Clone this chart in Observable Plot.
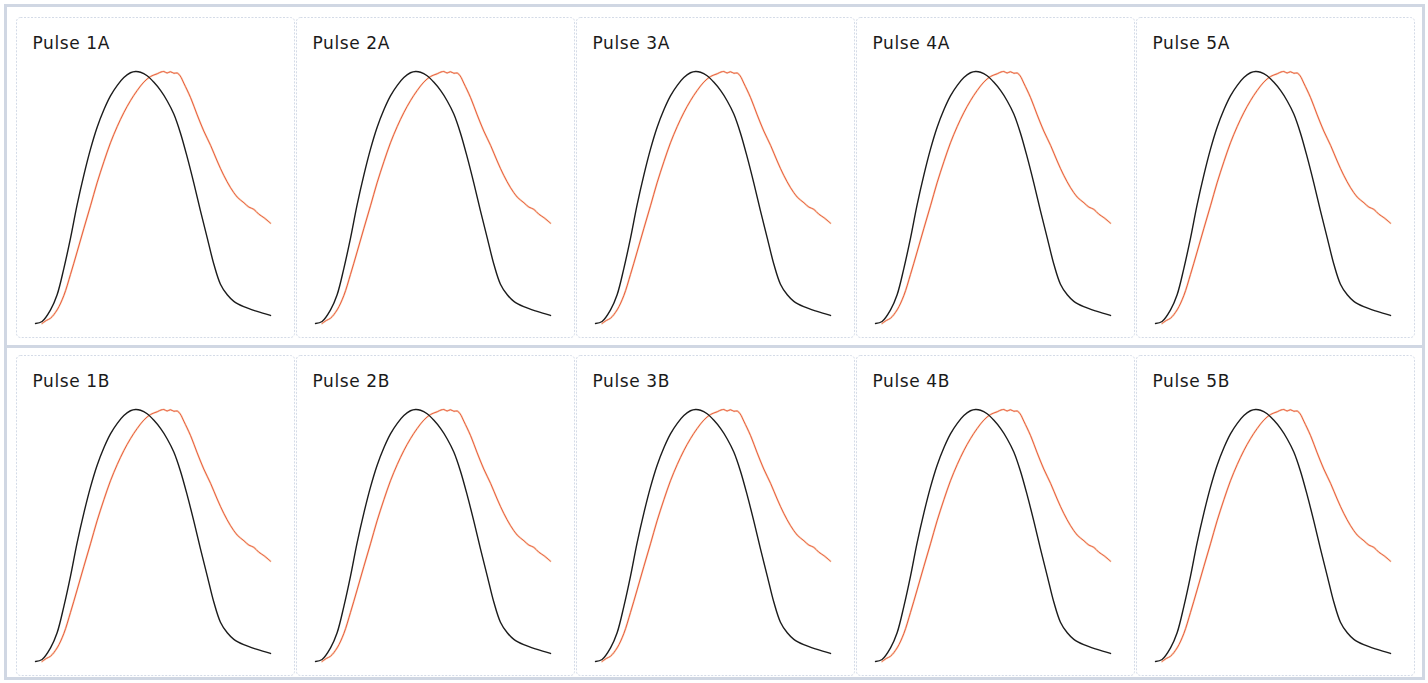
<!DOCTYPE html>
<html><head><meta charset="utf-8">
<script src="https://cdn.jsdelivr.net/npm/d3@7"></script>
<script src="https://cdn.jsdelivr.net/npm/@observablehq/plot@0.6"></script>
<style>
html,body{margin:0;padding:0;background:#fff;}
#wrap{position:relative;width:1428px;height:683px;overflow:hidden;}
#chart{position:absolute;left:0;top:0;}
.box{position:absolute;border:3px solid #d0d7e3;box-sizing:border-box;pointer-events:none;}
#chart text{letter-spacing:0.6px;}
</style></head><body>
<div id="wrap">
<div id="chart"></div>
<div class="box" style="left:4px;top:4px;width:1421px;height:344px"></div>
<div class="box" style="left:4px;top:345px;width:1421px;height:335px"></div>
</div>
<script>
// Panels
const pulses = ["1", "2", "3", "4", "5"];
const rows = ["A", "B"];

// Black pulse (normalised time 0–100, normalised amplitude 0–1)
const blackT = [0, 2.8, 6.4, 9.2, 12.1, 14.9, 17.7, 20.6, 23.4, 26.2, 29.1, 31.9, 34.8, 37.6, 40.4, 42.6, 44.7, 47.5, 50.3, 53.2, 56.0, 58.9, 61.7, 64.5, 67.4, 70.2, 73.1, 75.9, 78.7, 81.6, 84.4, 88.6, 94.3, 100];
const blackA = [0, 0.008, 0.054, 0.114, 0.220, 0.339, 0.471, 0.590, 0.692, 0.778, 0.848, 0.903, 0.945, 0.976, 0.995, 1.0, 0.997, 0.983, 0.958, 0.925, 0.884, 0.830, 0.755, 0.662, 0.556, 0.447, 0.339, 0.235, 0.156, 0.114, 0.088, 0.067, 0.048, 0.032];

// Orange (measured) pulse
const orangeT = [2.8, 4.6, 6.4, 9.2, 12.1, 14.9, 17.7, 20.6, 23.4, 26.2, 29.1, 31.9, 34.8, 37.6, 40.4, 43.3, 46.1, 48.9, 51.8, 53.4, 54.6, 56.0, 57.4, 58.9, 60.3, 61.6, 63.1, 66.0, 68.8, 71.6, 74.5, 77.3, 80.1, 83.0, 85.8, 88.7, 90.8, 92.9, 95.0, 97.2, 100];
const orangeA = [0.0, 0.012, 0.021, 0.054, 0.112, 0.195, 0.284, 0.378, 0.467, 0.558, 0.642, 0.717, 0.782, 0.837, 0.884, 0.925, 0.958, 0.980, 0.991, 0.998, 1.0, 0.994, 0.999, 0.993, 0.994, 0.982, 0.954, 0.896, 0.828, 0.764, 0.707, 0.645, 0.588, 0.539, 0.502, 0.479, 0.462, 0.453, 0.434, 0.420, 0.398];

const lines = [];
for (const r of rows) for (const p of pulses) {
  blackT.forEach((t, i) => lines.push({pulse: p, row: r, t, a: blackA[i], s: "black"}));
  orangeT.forEach((t, i) => lines.push({pulse: p, row: r, t, a: orangeA[i], s: "orange"}));
}
const labels = [];
for (const r of rows) for (const p of pulses) labels.push({pulse: p, row: r, label: `Pulse ${p}${r}`});

const chart = Plot.plot({
  width: 1428,
  height: 683,
  marginLeft: 16,
  marginRight: 14,
  marginTop: 16,
  marginBottom: 8,
  style: {background: "transparent", fontFamily: "DejaVu Sans, Verdana, sans-serif"},
  fx: {domain: pulses, axis: null, paddingInner: 0.0072, paddingOuter: 0},
  fy: {domain: rows, axis: null, paddingInner: 0.0533, paddingOuter: 0},
  x: {domain: [0, 100], axis: null, insetLeft: 19, insetRight: 24},
  y: {domain: [0, 1], axis: null, insetTop: 54, insetBottom: 14},
  marks: [
    Plot.frame({stroke: "#d4dbe7", strokeWidth: 1, strokeDasharray: "2 1.5", rx: 4}),
    Plot.line(lines.filter(d => d.s === "orange"), {x: "t", y: "a", fx: "pulse", fy: "row", z: null, stroke: "#f3b27a", strokeWidth: 2, strokeOpacity: 0.5, curve: "catmull-rom"}),
    Plot.line(lines.filter(d => d.s === "orange"), {x: "t", y: "a", fx: "pulse", fy: "row", z: null, stroke: "#ea5a3e", strokeWidth: 1, curve: "catmull-rom"}),
    Plot.line(lines.filter(d => d.s === "black"), {x: "t", y: "a", fx: "pulse", fy: "row", z: null, stroke: "#1c1c1c", strokeWidth: 1.4, curve: "catmull-rom"}),
    Plot.text(labels, {fx: "pulse", fy: "row", text: "label", frameAnchor: "top-left", textAnchor: "start", lineAnchor: "top", dx: 16, dy: 19, fontSize: 17, fill: "#1a1a1a"})
  ]
});
document.getElementById("chart").appendChild(chart);
</script>
</body></html>
